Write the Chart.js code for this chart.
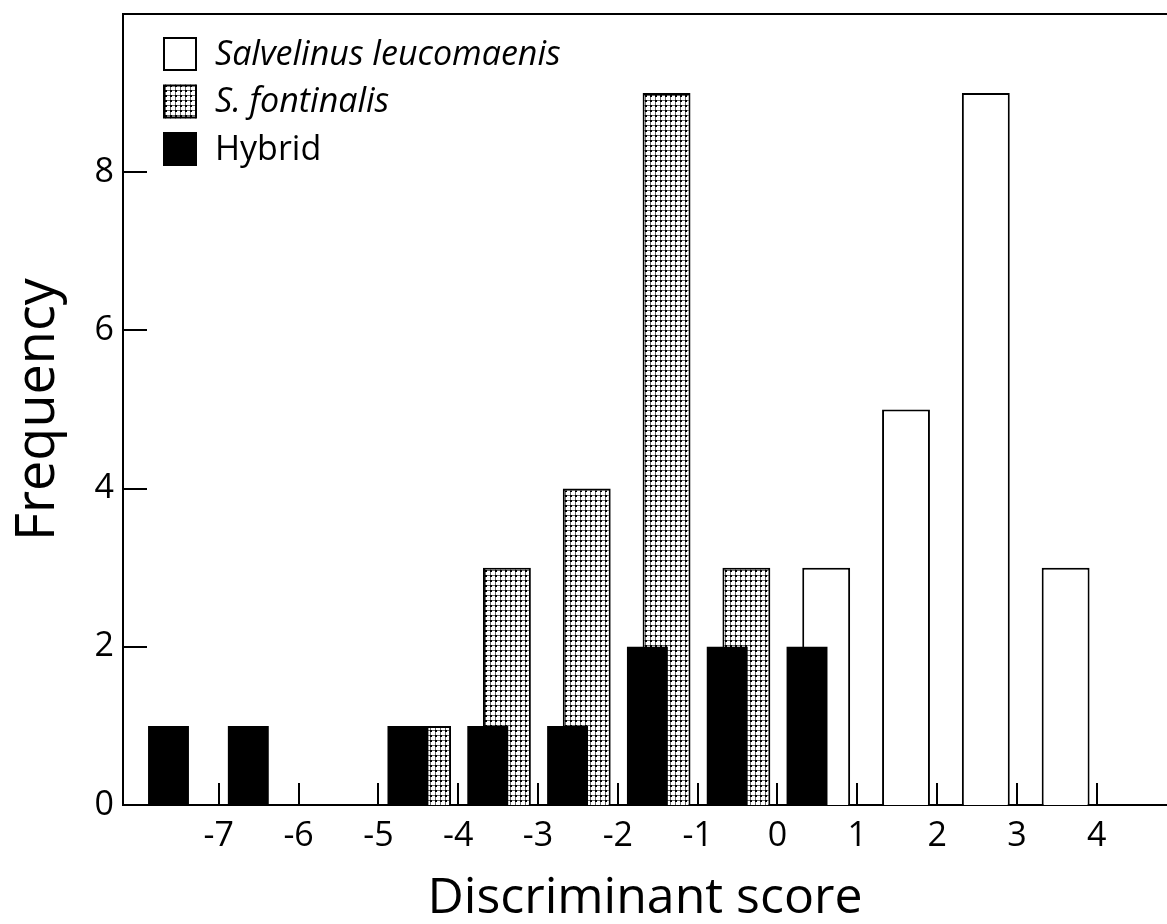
<!DOCTYPE html>
<html>
<head>
<meta charset="utf-8">
<script src="https://cdn.jsdelivr.net/npm/chart.js@4.4.1/dist/chart.umd.min.js"></script>
<style>
  html, body { margin: 0; padding: 0; background: #fff; }
  #wrap { width: 1167px; height: 924px; }
</style>
</head>
<body>
<div id="wrap"><canvas id="histograma"></canvas></div>
<script>
// each bin starts at this score and is 1 unit wide
const binStart    = [-8, -7, -6, -5, -4, -3, -2, -1, 0, 1, 2, 3];
const leucomaenis = [ 0,  0,  0,  0,  0,  0,  0,  0, 3, 5, 9, 3];
const fontinalis  = [ 0,  0,  0,  1,  3,  4,  9,  3, 0, 0, 0, 0];
const hybrid      = [ 1,  1,  0,  1,  1,  1,  2,  2, 2, 0, 0, 0];
const seriesNames = ['Salvelinus leucomaenis', 'S. fontinalis', 'Hybrid'];
const seriesItalic = [true, true, false];
const xTicks = [-7, -6, -5, -4, -3, -2, -1, 0, 1, 2, 3, 4];
const yTicks = [0, 2, 4, 6, 8];

const fonte = '"Open Sans", "DejaVu Sans", sans-serif';

// pontos pretos em grade (preenchimento do S. fontinalis)
function pontilhado() {
  const c = document.createElement('canvas');
  c.width = 5; c.height = 5;
  const g = c.getContext('2d');
  g.fillStyle = '#fff';
  g.fillRect(0, 0, 5, 5);
  g.fillStyle = '#666';
  g.fillRect(0, 0, 5, 1);
  g.fillRect(0, 0, 1, 5);
  g.fillStyle = '#000';
  g.fillRect(0, 0, 2, 2);
  return g.createPattern(c, 'repeat');
}

// barra dentro do bin: posicao relativa ao inicio do bin
function pontos(valores, desloc) {
  const out = [];
  for (let i = 0; i < binStart.length; i++) {
    if (valores[i] > 0) out.push({ x: binStart[i] + desloc, y: valores[i] });
  }
  return out;
}

function semFolga(s) {
  s.paddingTop = 0;
  s.paddingBottom = 0;
  s.paddingLeft = 0;
  s.paddingRight = 0;
}

const molduraETicks = {
  id: 'molduraETicks',
  afterDatasetsDraw(chart) {
    const { ctx, chartArea: a, scales } = chart;
    ctx.save();
    ctx.strokeStyle = '#000';
    ctx.lineWidth = 2;
    ctx.beginPath();
    ctx.moveTo(a.left - 1, a.top);
    ctx.lineTo(a.right, a.top);
    xTicks.forEach(v => {
      const px = Math.round(scales.x.getPixelForValue(v));
      ctx.moveTo(px, a.bottom);
      ctx.lineTo(px, a.bottom - 22);
    });
    yTicks.forEach(v => {
      const py = Math.round(scales.y.getPixelForValue(v));
      ctx.moveTo(a.left, py);
      ctx.lineTo(a.left + 24, py);
    });
    ctx.stroke();
    ctx.restore();
  }
};

const legendaInterna = {
  id: 'legendaInterna',
  afterDraw(chart) {
    const { ctx, chartArea: a } = chart;
    const lado = 34, passo = 47.5;
    ctx.save();
    chart.data.datasets.forEach((ds, i) => {
      const x = a.left + 40, y = a.top + 23 + i * passo;
      ctx.fillStyle = ds.backgroundColor;
      ctx.fillRect(x, y, lado, lado);
      ctx.lineWidth = 2;
      ctx.strokeStyle = '#000';
      ctx.strokeRect(x + 1, y + 1, lado - 2, lado - 2);
      ctx.font = (seriesItalic[i] ? 'italic ' : '') + '34px ' + fonte;
      ctx.textBaseline = 'middle';
      ctx.textAlign = 'left';
      ctx.fillStyle = '#000';
      ctx.fillText(ds.label, x + lado + 18, y + lado / 2 + 1);
    });
    ctx.restore();
  }
};

const xMin = -8.2, xMax = 4.88;

new Chart(document.getElementById('histograma'), {
  type: 'bar',
  data: {
    datasets: [
      {
        label: seriesNames[0],
        data: pontos(leucomaenis, 0.61),
        xAxisID: 'x',
        backgroundColor: '#fff',
        borderColor: '#000',
        borderWidth: 2,
        grouped: false,
        barPercentage: 1,
        categoryPercentage: 0.6,
        order: 2
      },
      {
        label: seriesNames[1],
        data: pontos(fontinalis, 0.61),
        xAxisID: 'x',
        backgroundColor: pontilhado(),
        borderColor: '#000',
        borderWidth: 2,
        grouped: false,
        barPercentage: 1,
        categoryPercentage: 0.6,
        order: 1
      },
      {
        label: seriesNames[2],
        data: pontos(hybrid, 0.37),
        xAxisID: 'xh',
        backgroundColor: '#000',
        borderColor: '#000',
        borderWidth: 0,
        grouped: false,
        barPercentage: 1,
        categoryPercentage: 0.5125,
        order: 0
      }
    ]
  },
  options: {
    responsive: true,
    maintainAspectRatio: false,
    devicePixelRatio: 1,
    animation: false,
    layout: { padding: { top: 14, left: 0, right: 0, bottom: 0 } },
    plugins: {
      legend: { display: false },
      tooltip: { enabled: false }
    },
    scales: {
      x: {
        type: 'linear',
        position: 'bottom',
        offset: false,
        min: xMin,
        max: xMax,
        afterBuildTicks: s => { s.ticks = xTicks.map(v => ({ value: v })); },
        afterFit: s => { s.height = 119; semFolga(s); },
        grid: { display: false, drawTicks: false, offset: false },
        border: { display: true, color: '#000', width: 2 },
        ticks: {
          autoSkip: false,
          maxRotation: 0,
          padding: 11,
          color: '#000',
          font: { family: fonte, size: 34 }
        },
        title: {
          display: true,
          text: 'Discriminant score',
          color: '#000',
          font: { family: fonte, size: 50, lineHeight: 1 },
          padding: 0
        }
      },
      xh: {
        type: 'linear',
        display: false,
        offset: false,
        min: xMin,
        max: xMax,
        grid: { offset: false },
        ticks: { stepSize: 1, includeBounds: false }
      },
      y: {
        min: 0,
        max: 10,
        afterBuildTicks: s => { s.ticks = yTicks.map(v => ({ value: v })); },
        afterFit: s => { s.width = 123; semFolga(s); },
        grid: { display: false, drawTicks: false },
        border: { display: true, color: '#000', width: 2 },
        ticks: {
          padding: 9,
          color: '#000',
          font: { family: fonte, size: 34 }
        },
        title: {
          display: true,
          text: 'Frequency',
          color: '#000',
          font: { family: fonte, size: 54, lineHeight: 1.2 },
          padding: { top: 6, bottom: 0 }
        }
      }
    }
  },
  plugins: [molduraETicks, legendaInterna]
});
</script>
</body>
</html>
